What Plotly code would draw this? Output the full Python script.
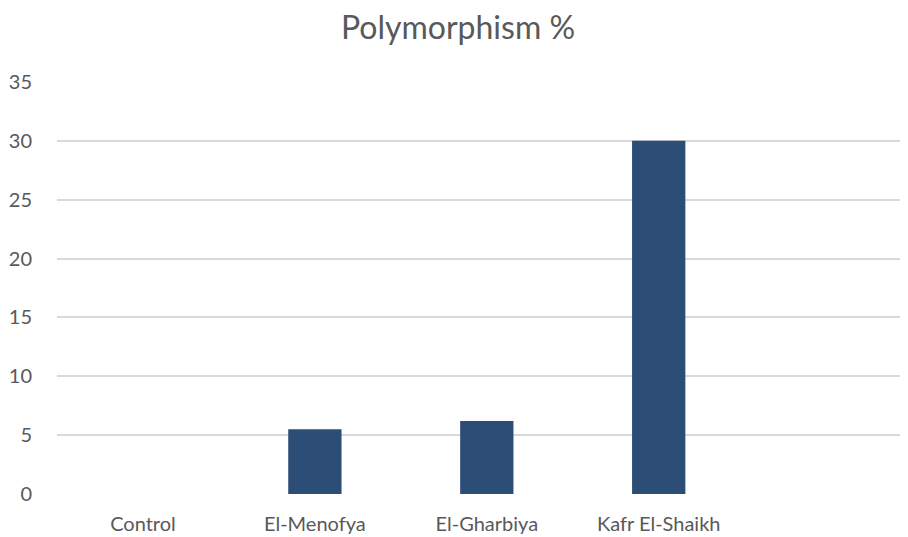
import plotly.graph_objects as go

categories = ["Control", "El-Menofya", "El-Gharbiya", "Kafr El-Shaikh"]
values = [0, 5.5, 6.2, 30]
y_ticks = [0, 5, 10, 15, 20, 25, 30, 35]

fig = go.Figure(go.Bar(
    x=categories, y=values,
    marker=dict(color="#2C4D75", line=dict(width=0)),
))

# page body has an 8px margin, so the figure is sized/offset to compensate
fig.update_layout(
    width=900, height=529,
    paper_bgcolor="white", plot_bgcolor="white",
    margin=dict(l=49, r=0, t=74, b=43),
    bargap=0.69,
    showlegend=False,
    font=dict(family="Lato, 'Open Sans', sans-serif", color="#595959", size=20),
    title=dict(text="Polymorphism %", x=0.5, xanchor="center", y=0.962, yanchor="middle",
               font=dict(size=32, color="#595959")),
    xaxis=dict(
        range=[-0.5, 4.45], showgrid=False, zeroline=False, showline=False,
        ticks="outside", ticklen=12, tickcolor="rgba(0,0,0,0)",
        tickfont=dict(size=20, color="#595959"),
    ),
    yaxis=dict(
        range=[0, 35], tickvals=y_ticks, showgrid=True, gridcolor="#D9D9D9", gridwidth=1.5,
        zeroline=False, showline=False,
        ticks="outside", ticklen=20, tickcolor="rgba(0,0,0,0)",
        tickfont=dict(size=20, color="#595959"),
    ),
)

fig.write_html("out.html")
